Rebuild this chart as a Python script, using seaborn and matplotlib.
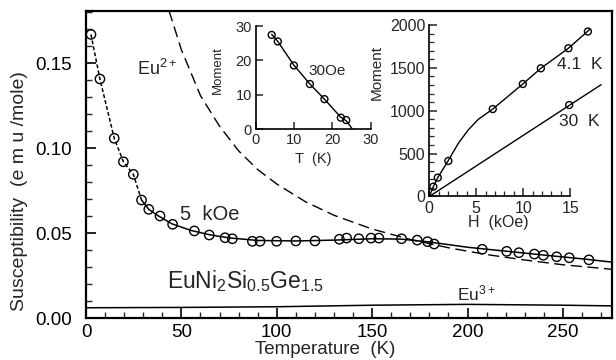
import matplotlib
matplotlib.use("Agg")
import matplotlib.pyplot as plt
import seaborn as sns
from matplotlib.ticker import MultipleLocator, FixedLocator, FormatStrFormatter

sns.set_style("ticks")
plt.rcParams['font.family'] = ['Liberation Sans', 'DejaVu Sans']
plt.rcParams['mathtext.default'] = 'regular'
plt.rcParams['xtick.direction'] = 'in'
plt.rcParams['ytick.direction'] = 'in'

# ---------------- main panel data ----------------
temp_pts = [2.6, 7.3, 14.8, 19.6, 24.8, 29.1, 32.9, 38.8, 45.4, 56.8, 64.6, 72.9, 76.7,
            87.2, 91.2, 99.9, 110.0, 120.0, 132.8, 136.6, 143.0, 149.4, 153.5, 165.4,
            173.6, 179.0, 182.5, 207.7, 220.5, 226.9, 235.0, 239.7, 246.7, 253.3, 263.6]
chi_pts = [0.167, 0.1408, 0.1059, 0.0921, 0.0847, 0.0696, 0.0641, 0.0602, 0.0553, 0.0514,
           0.0490, 0.0474, 0.0468, 0.0453, 0.0453, 0.0453, 0.0455, 0.0455, 0.0465, 0.0472,
           0.0468, 0.0472, 0.0472, 0.0468, 0.0460, 0.0451, 0.0437, 0.0406, 0.0394, 0.0386,
           0.0378, 0.0371, 0.0362, 0.0356, 0.0344]

low_t = [2.6, 7.3, 14.8, 19.6, 24.8, 29.1]
low_chi = [0.167, 0.1408, 0.1059, 0.0921, 0.0847, 0.0696]

fit_t = [29.1, 33, 38, 45, 55, 65, 75, 90, 110, 130, 150, 165, 180, 200, 220, 240, 260, 276]
fit_chi = [0.0696, 0.0640, 0.0602, 0.0556, 0.0517, 0.0491, 0.0473, 0.0458, 0.0455, 0.0460,
           0.0468, 0.0466, 0.0449, 0.0418, 0.0395, 0.0372, 0.0350, 0.0330]

eu2_t = [43.5, 50, 60, 70, 80, 90, 100, 115, 130, 150, 170, 190, 210, 230, 250, 276]
eu2_chi = [0.181, 0.158, 0.131, 0.113, 0.0985, 0.0875, 0.0790, 0.0686, 0.0606, 0.0525,
           0.0464, 0.0415, 0.0375, 0.0343, 0.0315, 0.0288]

eu3_t = [0, 50, 100, 150, 200, 250, 276]
eu3_chi = [0.0062, 0.0064, 0.0068, 0.0077, 0.0082, 0.0077, 0.0073]

# ---------------- inset 1 (30 Oe) ----------------
in1_t = [4.1, 5.7, 9.9, 14.1, 17.9, 22.2, 23.6]
in1_m = [27.4, 25.5, 18.5, 13.1, 8.7, 3.3, 2.6]
in1_line_t = [4.1, 5.7, 9.9, 14.1, 17.9, 22.2, 23.6, 25.2]
in1_line_m = [27.6, 25.5, 18.6, 13.1, 8.7, 3.4, 2.4, 0.0]

# ---------------- inset 2 (M vs H) ----------------
h41_pts = [0.43, 0.9, 2.03, 6.76, 9.96, 11.88, 14.82, 16.89]
m41_pts = [115, 220, 415, 1020, 1312, 1495, 1729, 1924]
h41_line = [0, 0.43, 0.9, 2.0, 3.1, 4.16, 5.22, 6.76, 9.96, 11.88, 14.82, 17.1]
m41_line = [0, 115, 220, 415, 622, 778, 900, 1020, 1312, 1495, 1729, 1950]
h30_pts = [14.9]
m30_pts = [1067]
h30_line = [0, 18.3]
m30_line = [0, 1304]

fig = plt.figure(figsize=(6.16, 3.6), dpi=100)
ax = fig.add_axes([86/616, 1-318.3/360, (612-86)/616, (318.3-11)/360])

sns.lineplot(x=low_t, y=low_chi, ax=ax, color='k', lw=1.1, linestyle=(0, (2.5, 1.5)),
             sort=False, estimator=None)
sns.lineplot(x=fit_t, y=fit_chi, ax=ax, color='k', lw=1.1, sort=False, estimator=None)
sns.lineplot(x=eu2_t, y=eu2_chi, ax=ax, color='k', lw=1.0, linestyle=(0, (8, 4)),
             sort=False, estimator=None)
sns.lineplot(x=eu3_t, y=eu3_chi, ax=ax, color='k', lw=1.1, sort=False, estimator=None)
sns.scatterplot(x=temp_pts, y=chi_pts, ax=ax, marker='o', s=45, facecolor='none',
                edgecolor='k', linewidth=1.0, zorder=5)

ax.set_xlim(0, 275.7)
ax.set_ylim(0, 0.1808)
ax.xaxis.set_major_locator(MultipleLocator(50))
ax.xaxis.set_minor_locator(MultipleLocator(10))
ax.yaxis.set_major_locator(MultipleLocator(0.05))
ax.yaxis.set_minor_locator(MultipleLocator(0.01))
ax.yaxis.set_major_formatter(FormatStrFormatter('%.2f'))
ax.tick_params(which='major', length=7, width=1.2, labelsize=13.5, colors='k')
ax.tick_params(axis='y', which='major', pad=10)
ax.tick_params(axis='x', which='major', pad=4)
ax.tick_params(which='minor', length=4, width=1.0)
for s in ax.spines.values():
    s.set_linewidth(1.6)
    s.set_color('k')
ax.set_xlabel('Temperature  (K)', fontsize=13.5)
ax.set_ylabel('Susceptibility  (e m u /mole)', fontsize=14)
ax.xaxis.set_label_coords((325-86)/526, -0.074)
ax.yaxis.set_label_coords(-0.110, (318.3-191.5)/307.3)

ax.text(26.7, 0.143, 'Eu$^{2+}$', fontsize=13, ha='left', va='baseline')
ax.text(49.3, 0.061, '5  kOe', fontsize=14.5, ha='left', va='center')
ax.text(42.5, 0.022, 'EuNi$_2$Si$_{0.5}$Ge$_{1.5}$', fontsize=16.5, ha='left', va='center')
ax.text(194.4, 0.0108, 'Eu$^{3+}$', fontsize=12.5, ha='left', va='baseline')

# inset 1
ax1 = fig.add_axes([256/616, 1-129/360, (370.7-256)/616, (129-26)/360])
sns.lineplot(x=in1_line_t, y=in1_line_m, ax=ax1, color='k', lw=1.0, sort=False, estimator=None)
sns.scatterplot(x=in1_t, y=in1_m, ax=ax1, marker='o', s=25, facecolor='none',
                edgecolor='k', linewidth=1.0, zorder=5)
ax1.set_xlim(0, 30)
ax1.set_ylim(0, 30)
ax1.set_xticks([0, 10, 20, 30])
ax1.set_yticks([0, 10, 20, 30])
ax1.tick_params(length=5, width=1.1, labelsize=10.5, pad=3)
ax1.spines['top'].set_visible(False)
ax1.spines['right'].set_visible(False)
for s in ['left', 'bottom']:
    ax1.spines[s].set_linewidth(1.2)
    ax1.spines[s].set_color('k')
ax1.patch.set_alpha(0)
ax1.set_xlabel('T  (K)', fontsize=10.5)
ax1.set_ylabel('Moment', fontsize=9.5)
ax1.xaxis.set_label_coords(0.5, -0.22)
ax1.yaxis.set_label_coords((224-256)/114.7, 0.57)
ax1.text(13.6, 16.9, '30Oe', fontsize=11, ha='left', va='center')

# inset 2
ax2 = fig.add_axes([429.3/616, 1-196.5/360, (603-429.3)/616, (196.5-25)/360])
sns.lineplot(x=h41_line, y=m41_line, ax=ax2, color='k', lw=1.0, sort=False, estimator=None)
sns.lineplot(x=h30_line, y=m30_line, ax=ax2, color='k', lw=1.0, sort=False, estimator=None)
sns.scatterplot(x=h41_pts, y=m41_pts, ax=ax2, marker='o', s=25, facecolor='none',
                edgecolor='k', linewidth=1.0, zorder=5)
sns.scatterplot(x=h30_pts, y=m30_pts, ax=ax2, marker='o', s=25, facecolor='none',
                edgecolor='k', linewidth=1.0, zorder=5)
ax2.set_xlim(0, 18.5)
ax2.set_ylim(0, 2000)
ax2.set_xticks([0, 5, 10, 15])
ax2.set_yticks([0, 500, 1000, 1500, 2000])
ax2.xaxis.set_minor_locator(FixedLocator([1, 2, 3, 4, 6, 7, 8, 9, 11, 12, 13, 14]))
ax2.yaxis.set_minor_locator(MultipleLocator(100))
ax2.tick_params(which='major', length=6, width=1.1, labelsize=11.5, pad=3)
ax2.tick_params(which='minor', length=3.5, width=0.9)
ax2.spines['top'].set_visible(False)
ax2.spines['right'].set_visible(False)
ax2.spines['bottom'].set_bounds(0, 15)
for s in ['left', 'bottom']:
    ax2.spines[s].set_linewidth(1.2)
    ax2.spines[s].set_color('k')
ax2.patch.set_alpha(0)
ax2.set_xlabel('H  (kOe)', fontsize=11.5)
ax2.xaxis.set_label_coords(7.4/18.5, -0.11)
ax2.set_ylabel('Moment', fontsize=11)
ax2.yaxis.set_label_coords((384-429.3)/173.7, 0.725)
ax2.text(13.6, 1538, '4.1  K', fontsize=12.5, ha='left', va='center')
ax2.text(13.8, 877, '30  K', fontsize=12.5, ha='left', va='center')

fig.savefig('out.png', dpi=100)
